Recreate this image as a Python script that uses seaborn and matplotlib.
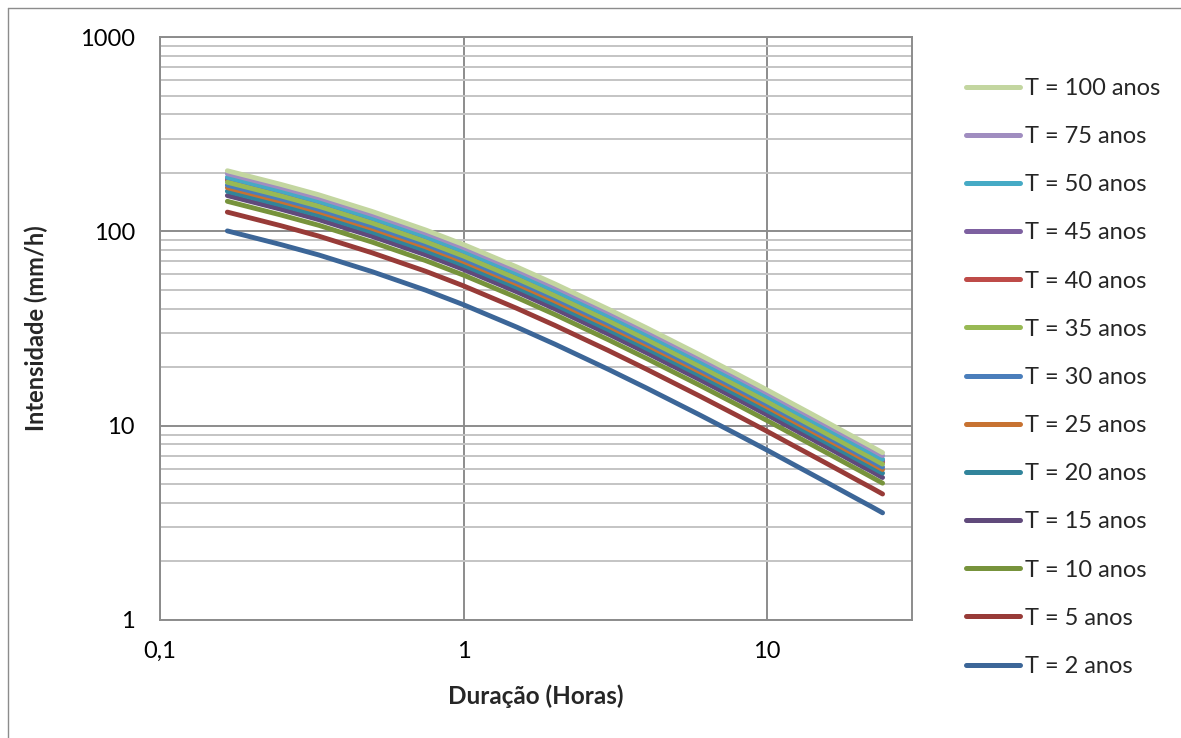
import matplotlib
matplotlib.use("Agg")
import matplotlib.pyplot as plt
import matplotlib.ticker as mticker
from matplotlib.lines import Line2D
import seaborn as sns
import pandas as pd

# Durations in hours
durations = [1/6, 0.25, 1/3, 0.5, 0.75, 1, 1.5, 2, 3, 4, 6, 8, 10, 12, 14, 16, 18, 20, 22, 24]

# Intensities (mm/h) per return period
T2 = [100.5, 85.5, 75.6, 62.0, 49.8, 41.9, 32.1, 26.25, 19.48, 15.63, 11.35, 8.99, 7.48, 6.41, 5.63, 5.03, 4.55, 4.16, 3.84, 3.56]
T5 = [125.6, 106.9, 94.5, 77.5, 62.3, 52.4, 40.1, 32.8, 24.35, 19.54, 14.19, 11.24, 9.35, 8.01, 7.04, 6.29, 5.69, 5.20, 4.80, 4.45]
T10 = [142.7, 121.4, 107.4, 88.0, 70.7, 59.5, 45.6, 37.3, 27.66, 22.19, 16.12, 12.77, 10.62, 9.10, 7.99, 7.14, 6.46, 5.91, 5.45, 5.06]
T15 = [152.8, 130.0, 114.9, 94.2, 75.7, 63.7, 48.8, 39.9, 29.61, 23.76, 17.25, 13.66, 11.37, 9.74, 8.56, 7.65, 6.92, 6.32, 5.84, 5.41]
T20 = [160.8, 136.8, 121.0, 99.2, 79.7, 67.0, 51.4, 42.0, 31.17, 25.01, 18.16, 14.38, 11.97, 10.26, 9.01, 8.05, 7.28, 6.66, 6.14, 5.70]
T25 = [167.8, 142.8, 126.3, 103.5, 83.2, 70.0, 53.6, 43.8, 32.53, 26.10, 18.95, 15.01, 12.49, 10.70, 9.40, 8.40, 7.60, 6.95, 6.41, 5.95]
T30 = [172.9, 147.1, 130.0, 106.6, 85.7, 72.1, 55.2, 45.2, 33.51, 26.88, 19.52, 15.46, 12.87, 11.03, 9.68, 8.65, 7.83, 7.16, 6.60, 6.12]
T35 = [178.9, 152.2, 134.6, 110.4, 88.6, 74.6, 57.1, 46.7, 34.67, 27.82, 20.20, 16.00, 13.31, 11.41, 10.02, 8.95, 8.10, 7.40, 6.84, 6.34]
T40 = [182.9, 155.6, 137.6, 112.8, 90.6, 76.3, 58.4, 47.8, 35.45, 28.45, 20.66, 16.36, 13.61, 11.67, 10.25, 9.15, 8.28, 7.57, 6.99, 6.48]
T45 = [186.9, 159.0, 140.6, 115.3, 92.6, 77.9, 59.7, 48.8, 36.23, 29.07, 21.11, 16.72, 13.91, 11.92, 10.47, 9.36, 8.46, 7.74, 7.14, 6.62]
T50 = [189.9, 161.6, 142.9, 117.2, 94.1, 79.2, 60.7, 49.6, 36.82, 29.54, 21.45, 16.99, 14.14, 12.11, 10.64, 9.51, 8.60, 7.86, 7.26, 6.73]
T75 = [198.0, 168.4, 148.9, 122.1, 98.1, 82.5, 63.2, 51.7, 38.38, 30.79, 22.36, 17.71, 14.74, 12.63, 11.09, 9.91, 8.96, 8.20, 7.56, 7.01]
T100 = [205.0, 174.4, 154.2, 126.5, 101.6, 85.5, 65.5, 53.6, 39.74, 31.89, 23.15, 18.34, 15.26, 13.08, 11.49, 10.26, 9.28, 8.49, 7.83, 7.26]

series_labels = ["T = 2 anos", "T = 5 anos", "T = 10 anos", "T = 15 anos", "T = 20 anos",
                 "T = 25 anos", "T = 30 anos", "T = 35 anos", "T = 40 anos", "T = 45 anos",
                 "T = 50 anos", "T = 75 anos", "T = 100 anos"]
series_values = [T2, T5, T10, T15, T20, T25, T30, T35, T40, T45, T50, T75, T100]
series_colors = ["#3C6698", "#983B38", "#77933C", "#604A7B", "#31849B", "#C77231",
                 "#4A7EBB", "#98B954", "#BE4B48", "#7D60A0", "#46AAC5", "#A08DC0", "#C3D6A0"]

x_ticks = [0.1, 1, 10]
x_ticklabels = ["0,1", "1", "10"]
y_ticks = [1, 10, 100, 1000]
y_ticklabels = ["1", "10", "100", "1000"]

rows = []
for lab, vals in zip(series_labels, series_values):
    for d, v in zip(durations, vals):
        rows.append({"dur": d, "i": v, "T": lab})
df = pd.DataFrame(rows)
palette = dict(zip(series_labels, series_colors))

sns.set_theme(style="white")
plt.rcParams["font.family"] = ["Lato", "DejaVu Sans"]

fig = plt.figure(figsize=(11.81, 7.38), dpi=100)
ax = fig.add_axes([160/1181, 1-620/738, (912-160)/1181, (620-37)/738])

draw_order = ["T = 40 anos", "T = 45 anos", "T = 2 anos", "T = 5 anos", "T = 10 anos",
              "T = 15 anos", "T = 20 anos", "T = 25 anos", "T = 30 anos", "T = 35 anos",
              "T = 50 anos", "T = 75 anos", "T = 100 anos"]
sns.lineplot(data=df, x="dur", y="i", hue="T", hue_order=draw_order, palette=palette,
             linewidth=3.5, legend=False, ax=ax, solid_capstyle="round",
             solid_joinstyle="round")

ax.set_xscale("log")
ax.set_yscale("log")
ax.set_xlim(0.1, 30)
ax.set_ylim(1, 1000)

ax.xaxis.set_major_locator(mticker.FixedLocator(x_ticks))
ax.xaxis.set_major_formatter(mticker.FixedFormatter(x_ticklabels))
ax.xaxis.set_minor_locator(mticker.FixedLocator([0.2, 0.3, 0.4, 0.5, 0.6, 0.7, 0.8, 0.9,
                                                  2, 3, 4, 5, 6, 7, 8, 9, 20]))
ax.xaxis.set_minor_formatter(mticker.NullFormatter())
ax.yaxis.set_major_locator(mticker.FixedLocator(y_ticks))
ax.yaxis.set_major_formatter(mticker.FixedFormatter(y_ticklabels))
ax.yaxis.set_minor_locator(mticker.LogLocator(base=10, subs=range(2, 10)))
ax.yaxis.set_minor_formatter(mticker.NullFormatter())

grid_dark = "#8C8C8C"
grid_light = "#C4C4C4"
ax.grid(True, which="major", axis="both", color=grid_dark, linewidth=1.4, zorder=0)
ax.grid(True, which="minor", axis="y", color=grid_light, linewidth=1.4, zorder=0)
ax.set_axisbelow(True)

for s in ax.spines.values():
    s.set_color(grid_dark)
    s.set_linewidth(1.4)

ax.tick_params(axis="both", which="major", labelsize=17, colors="#000000")
ax.tick_params(axis="x", which="major", direction="out", length=6, width=1.2, color=grid_dark, pad=9)
ax.tick_params(axis="x", which="minor", direction="in", length=5, width=1.0, color=grid_dark)
ax.tick_params(axis="y", which="major", direction="out", length=6, width=1.2, color=grid_dark, pad=12)
ax.tick_params(axis="y", which="minor", direction="in", length=4, width=1.0, color=grid_dark)

ax.set_xlabel("Duração (Horas)", fontsize=17.5, fontweight="bold", labelpad=16)
ax.set_ylabel("Intensidade (mm/h)", fontsize=17, fontweight="bold", labelpad=23)

handles = [Line2D([0], [0], color=c, linewidth=3.6, solid_capstyle="round")
           for c in series_colors]
labels = list(series_labels)
fig.legend(handles[::-1], labels[::-1], loc="upper left",
           bbox_to_anchor=(966/1181, 1-78/738), frameon=False, fontsize=17,
           handlelength=2.3, handletextpad=0.2, labelspacing=1.15,
           borderpad=0, borderaxespad=0)

# Chart-area border (top and left edges visible)
fig.add_artist(Line2D([8/1181, 1.0], [1-8/738, 1-8/738], transform=fig.transFigure,
                      color="#8C8C8C", linewidth=1.0))
fig.add_artist(Line2D([8/1181, 8/1181], [0.0, 1-8/738], transform=fig.transFigure,
                      color="#8C8C8C", linewidth=1.0))

fig.savefig("out.png", dpi=100)
